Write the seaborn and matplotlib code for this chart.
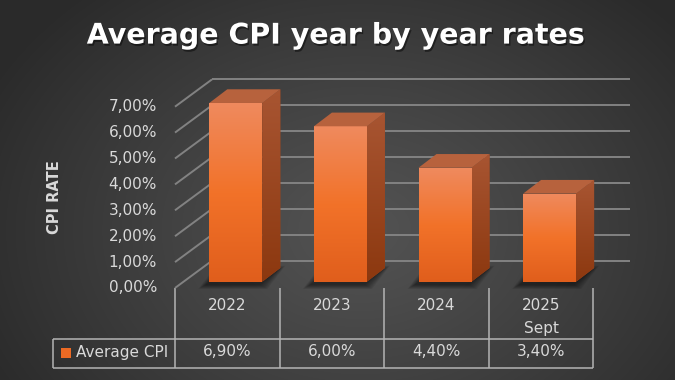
import numpy as np
import pandas as pd
import matplotlib
matplotlib.use("Agg")
import matplotlib.pyplot as plt
import seaborn as sns
from matplotlib.patches import Polygon, Rectangle
from matplotlib.transforms import ScaledTranslation
import matplotlib.patheffects as pe
from matplotlib.colors import LinearSegmentedColormap

# ---------------- data ----------------
categories = ["2022", "2023", "2024", "2025\nSept"]
values = [6.90, 6.00, 4.40, 3.40]
yticks = [0, 1, 2, 3, 4, 5, 6, 7]
series_name = "Average CPI"
title = "Average CPI year by year rates"
ylabel = "CPI RATE"


def pct(v):
    return f"{v:.2f}".replace(".", ",") + "%"


sns.set_theme(style="white")
plt.rcParams['font.family'] = ['DejaVu Sans']

W, H = 675, 380
fig = plt.figure(figsize=(W / 100, H / 100), dpi=100)

# ---------------- background ----------------
bg = fig.add_axes([0, 0, 1, 1], zorder=-10)
yy, xx = np.mgrid[0:H, 0:W]
d = np.sqrt(((xx - 360) / 420) ** 2 + ((yy - 230) / 320) ** 2)
d = np.clip(d, 0, 1) ** 1.1
c_center = np.array([0x53, 0x53, 0x53]) / 255
c_edge = np.array([0x2a, 0x2a, 0x2a]) / 255
img = c_center[None, None, :] * (1 - d[..., None]) + c_edge[None, None, :] * d[..., None]
bg.imshow(img, extent=[0, W, H, 0], aspect='auto', interpolation='bilinear')
bg.set_xlim(0, W)
bg.set_ylim(H, 0)
bg.axis('off')

# ---------------- main (bar plane) axes ----------------
PX_X = 104.6
PX_Y = 25.9
x0, y0 = 183.5, 281.7
ytop_val = 7.6
ax = fig.add_axes([x0 / W, (H - y0) / H, 4 * PX_X / W, ytop_val * PX_Y / H])
df = pd.DataFrame({"year": categories, "cpi": values})
sns.barplot(data=df, x="year", y="cpi", ax=ax, width=53 / PX_X, color="#ec6a24",
            saturation=1, edgecolor="none", linewidth=0, zorder=3, errorbar=None)
ax.set_xlim(-0.5, 3.5)
ax.set_ylim(0, ytop_val)
ax.axis('off')


def px2d(dxp, dyp):
    """pixel offset (display, y up) -> data offset"""
    p0 = ax.transData.transform((0, 0))
    r = ax.transData.inverted().transform(p0 + np.array([dxp, dyp]))
    return r[0], r[1]


bx, by = px2d(28.5, 21)      # back wall offset
fx, fy = px2d(-8.5, -6.3)    # front plane offset
ddx, ddy = px2d(18, 13.7)    # bar depth

grid_col = "#828282"
for v in yticks:
    ax.plot([-0.5 + bx, 3.5 + bx], [v + by, v + by], color=grid_col, lw=1.4,
            clip_on=False, zorder=0, solid_capstyle='butt')
    ax.plot([-0.5 + fx, -0.5 + bx], [v + fy, v + by], color=grid_col, lw=1.4,
            clip_on=False, zorder=0, solid_capstyle='butt')
    ax.text(-0.5, v, pct(v), transform=ax.transData + ScaledTranslation(-26.5 / 100, -6.3 / 100, fig.dpi_scale_trans),
            ha='right', va='center', color='#d9d9d9', fontsize=11)

front_cmap = LinearSegmentedColormap.from_list("front", [(0, "#e05e1c"), (0.5, "#f27229"), (1, "#ef8a5e")])
side_cmap = LinearSegmentedColormap.from_list("side", [(0, "#8c380f"), (1, "#a85532")])
grad = np.linspace(1, 0, 256)[:, None]

bars = list(ax.patches)
for p in bars:
    x, w, h = p.get_x(), p.get_width(), p.get_height()
    # soft shadow on the floor
    for k in range(8, 0, -1):
        ex, ey = px2d(k * 1.0, k * 0.6)
        sx, sy = px2d(-3, -2.5)
        poly = Polygon([(x + sx - ex, sy - ey), (x + w + sx + ex, sy - ey),
                        (x + w + ddx + sx + ex, ddy + sy + ey), (x + ddx + sx - ex, ddy + sy + ey)],
                       closed=True, facecolor="black", alpha=0.07, edgecolor='none', zorder=1, clip_on=False)
        ax.add_patch(poly)
    # front face gradient
    im = ax.imshow(grad, extent=[x, x + w, 0, h], aspect='auto', cmap=front_cmap, vmin=0, vmax=1,
                   zorder=4, interpolation='bilinear')
    im.set_clip_path(p)
    # side face
    side = Polygon([(x + w, 0), (x + w, h), (x + w + ddx, h + ddy), (x + w + ddx, ddy)], closed=True,
                   facecolor="#9a4620", edgecolor='none', zorder=3, clip_on=False)
    ax.add_patch(side)
    im2 = ax.imshow(grad, extent=[x + w, x + w + ddx, 0, h + ddy], aspect='auto', cmap=side_cmap,
                    vmin=0, vmax=1, zorder=4, interpolation='bilinear')
    im2.set_clip_path(side)
    # top face
    top = Polygon([(x, h), (x + w, h), (x + w + ddx, h + ddy), (x + ddx, h + ddy)], closed=True,
                  facecolor="#b7623d", edgecolor='none', zorder=4, clip_on=False)
    ax.add_patch(top)

ax.set_xlim(-0.5, 3.5)
ax.set_ylim(0, ytop_val)
ax.set_aspect('auto')

# ---------------- data table ----------------
tcol = "#b4b4b4"
tlw = 1.1
bounds = [-0.5, 0.5, 1.5, 2.5, 3.5]
colx = [ax.transData.transform((b, 0))[0] - 8.5 for b in bounds]
floor_y = H - (ax.transData.transform((0, 0))[1] - 6.3)
row1_y = 339
row2_y = 367.7
left_x = 53.3
for cx in colx:
    bg.plot([cx, cx], [floor_y, row2_y], color=tcol, lw=tlw, solid_capstyle='butt')
bg.plot([left_x, colx[-1]], [row1_y, row1_y], color=tcol, lw=tlw, solid_capstyle='butt')
bg.plot([left_x, colx[-1]], [row2_y, row2_y], color=tcol, lw=tlw, solid_capstyle='butt')
bg.plot([left_x, left_x], [row1_y, row2_y], color=tcol, lw=tlw, solid_capstyle='butt')

for i, (cat, v) in enumerate(zip(categories, values)):
    cx = (colx[i] + colx[i + 1]) / 2
    for j, line in enumerate(cat.split("\n")):
        bg.text(cx, 305 + 23.3 * j, line, ha='center', va='center', color='#d9d9d9', fontsize=11)
    bg.text(cx, 352, pct(v), ha='center', va='center', color='#d9d9d9', fontsize=11)

bg.add_patch(Rectangle((61, 348.3), 9.7, 9.7, facecolor="#ec6a24", edgecolor='none'))
bg.text(75.7, 352.5, series_name, ha='left', va='center', color='#d9d9d9', fontsize=11)

# ---------------- titles ----------------
fig.text(336 / W, (H - 43.6) / H, title, ha='center', va='baseline', fontsize=20.5,
         weight='bold', color='white',
         path_effects=[pe.withSimplePatchShadow(offset=(1, -1.5), shadow_rgbFace='black', alpha=0.45)])
fig.text(54.5 / W, (H - 197.5) / H, ylabel, rotation=90, ha='center', va='center', fontsize=10.5,
         weight='bold', color='#d9d9d9')

fig.savefig("out.png", dpi=100)
